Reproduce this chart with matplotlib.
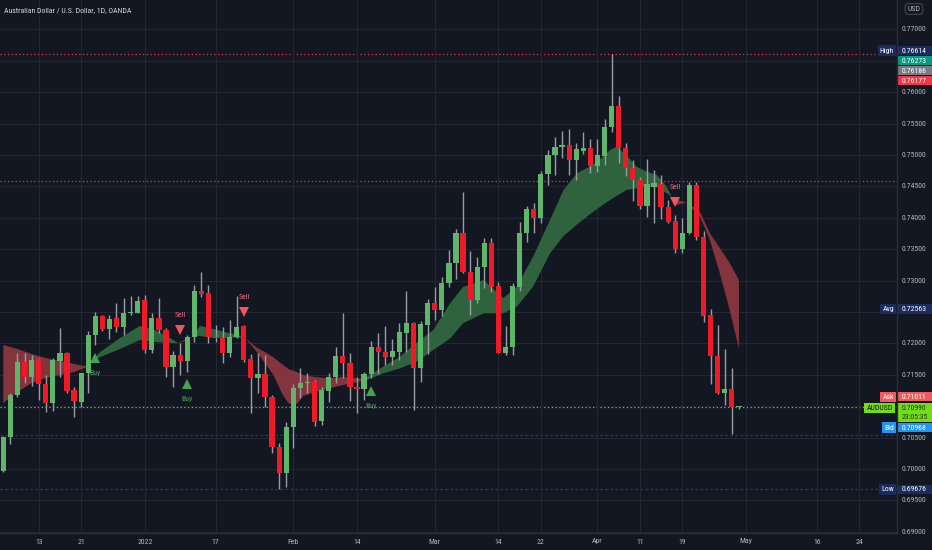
import matplotlib
matplotlib.use("Agg")
import matplotlib.pyplot as plt
from matplotlib.patches import Rectangle
from matplotlib.transforms import offset_copy
from matplotlib import font_manager
import numpy as np
import pandas as pd

# ---------------- data ----------------
start_date = "2021-12-06"
opens = [0.69973, 0.70509, 0.71178, 0.71708, 0.71470, 0.71747, 0.71353, 0.71056, 0.71724, 0.71842,
         0.71258, 0.71072, 0.71524, 0.72134, 0.72436, 0.72224, 0.72400, 0.72266, 0.72479, 0.72489,
         0.72691, 0.71895, 0.72400, 0.72213, 0.71619, 0.71815, 0.71724, 0.72097, 0.72839, 0.72798,
         0.72107, 0.72081, 0.71842, 0.72107, 0.72277, 0.71747, 0.71444, 0.71513, 0.71151, 0.70345,
         0.69931, 0.70664, 0.71285, 0.71365, 0.71390, 0.70764, 0.71247, 0.71460, 0.71799, 0.71683,
         0.71301, 0.71269, 0.71513, 0.71947, 0.71868, 0.71778, 0.71868, 0.72170, 0.72320, 0.71603,
         0.72293, 0.72638, 0.72532, 0.72957, 0.73275, 0.73753, 0.73142, 0.72691, 0.73212, 0.73594,
         0.72914, 0.71852, 0.71947, 0.72903, 0.73753, 0.74135, 0.74002, 0.74697, 0.75000, 0.75123,
         0.75159, 0.74920, 0.75068, 0.75107, 0.74825, 0.74984, 0.75441, 0.75780, 0.75107, 0.74798,
         0.74602, 0.74188, 0.74495, 0.74538, 0.74177, 0.73954, 0.73498, 0.73753, 0.74522, 0.73689,
         0.72452, 0.71799, 0.71215, 0.71269, 0.70985]
highs = [0.70525, 0.71215, 0.71847, 0.71852, 0.71815, 0.71767, 0.71497, 0.71763, 0.72240, 0.71863,
         0.71310, 0.71533, 0.72202, 0.72505, 0.72452, 0.72452, 0.72638, 0.72718, 0.72755, 0.72755,
         0.72771, 0.72479, 0.72718, 0.72240, 0.71884, 0.72011, 0.72134, 0.72930, 0.73142, 0.72930,
         0.72293, 0.72266, 0.72373, 0.72755, 0.72293, 0.71831, 0.71842, 0.71815, 0.71178, 0.70414,
         0.70753, 0.71353, 0.71603, 0.71533, 0.71417, 0.71310, 0.71524, 0.71947, 0.72479, 0.71842,
         0.71470, 0.71549, 0.72043, 0.72161, 0.72277, 0.72065, 0.72320, 0.72839, 0.72346, 0.72361,
         0.72702, 0.72893, 0.73062, 0.73487, 0.73817, 0.74416, 0.73476, 0.73371, 0.73674, 0.73674,
         0.72982, 0.72277, 0.72957, 0.73928, 0.74188, 0.74240, 0.74750, 0.75080, 0.75282, 0.75387,
         0.75409, 0.75196, 0.75371, 0.75250, 0.75250, 0.75568, 0.76614, 0.75940, 0.75186, 0.74920,
         0.74654, 0.74932, 0.74761, 0.74682, 0.74283, 0.74045, 0.73992, 0.74575, 0.74575, 0.73795,
         0.72543, 0.72293, 0.71906, 0.71603, 0.71011]
lows = [0.69960, 0.70398, 0.71151, 0.71369, 0.71322, 0.71099, 0.70908, 0.70928, 0.71470, 0.71215,
        0.70833, 0.70992, 0.71215, 0.71974, 0.72202, 0.72065, 0.72186, 0.72134, 0.72452, 0.72479,
        0.71842, 0.71852, 0.72161, 0.71460, 0.71310, 0.71497, 0.71549, 0.72027, 0.72744, 0.72002,
        0.72027, 0.71693, 0.71778, 0.72081, 0.71708, 0.70896, 0.71205, 0.70982, 0.70250, 0.69676,
        0.69718, 0.70330, 0.71126, 0.71205, 0.70685, 0.70700, 0.71072, 0.71365, 0.71444, 0.71088,
        0.70887, 0.71099, 0.71444, 0.71513, 0.71656, 0.71656, 0.71736, 0.71868, 0.70939, 0.71390,
        0.71831, 0.72373, 0.72436, 0.72903, 0.73021, 0.73116, 0.72452, 0.72648, 0.72877, 0.72823,
        0.71842, 0.71815, 0.71815, 0.72839, 0.73619, 0.73753, 0.73912, 0.74522, 0.74682, 0.74947,
        0.74682, 0.74602, 0.75016, 0.74709, 0.74734, 0.74841, 0.75371, 0.74868, 0.74666, 0.74272,
        0.74135, 0.74018, 0.73912, 0.73976, 0.73922, 0.73435, 0.73444, 0.73742, 0.73646, 0.72346,
        0.71353, 0.71194, 0.71019, 0.70557, 0.70960]
closes = [0.70514, 0.71178, 0.71708, 0.71470, 0.71736, 0.71353, 0.71056, 0.71736, 0.71842, 0.71242,
          0.71083, 0.71524, 0.72134, 0.72436, 0.72224, 0.72393, 0.72266, 0.72489, 0.72505, 0.72680,
          0.71895, 0.72400, 0.72213, 0.71619, 0.71815, 0.71724, 0.72097, 0.72834, 0.72787, 0.72097,
          0.72086, 0.71842, 0.72107, 0.72266, 0.71736, 0.71444, 0.71508, 0.71151, 0.70345, 0.69931,
          0.70673, 0.71294, 0.71374, 0.71390, 0.70748, 0.71258, 0.71460, 0.71799, 0.71683, 0.71301,
          0.71274, 0.71513, 0.71947, 0.71868, 0.71778, 0.71884, 0.72181, 0.72320, 0.71603, 0.72309,
          0.72638, 0.72532, 0.72966, 0.73275, 0.73753, 0.73142, 0.72691, 0.73221, 0.73594, 0.72903,
          0.71852, 0.71947, 0.72914, 0.73753, 0.74135, 0.74002, 0.74697, 0.75000, 0.75132, 0.75159,
          0.74920, 0.75091, 0.75107, 0.74825, 0.75000, 0.75451, 0.75780, 0.75107, 0.74798, 0.74602,
          0.74188, 0.74538, 0.74549, 0.74167, 0.73938, 0.73498, 0.73763, 0.74522, 0.73689, 0.72436,
          0.71799, 0.71215, 0.71269, 0.70992, 0.70990]

# moving-average ribbon (bar position, fast line, slow line)
rib_bar = [0, 2, 4, 6, 8, 10, 11.5, 12.1, 13.7, 16.5, 19.3, 21.4, 23.6, 24.7, 25.7, 26.8,
           27.8, 29.2, 31.3, 32.8, 34.2, 35.8, 37, 38.2, 39.4, 40.3, 41.5, 42.4, 44.1, 45.8,
           48, 50, 50.9, 51.4, 53.7, 56.1, 58.4, 60.8, 63.2, 65, 67.9, 70.7, 72.6, 74.9, 77.3,
           79.2, 81.1, 82.9, 84.4, 85.8, 86.7, 88.1, 89.5, 91, 92.4, 93.8, 94.5, 95.2, 96.6,
           98.5, 99.9, 101.3, 102.7, 104]
rib_fast = [0.71051, 0.71226, 0.71369, 0.71449, 0.71497, 0.71545, 0.71608, 0.71672, 0.71863, 0.72086,
            0.72277, 0.72213, 0.72086, 0.72006, 0.72038, 0.72118, 0.72277, 0.72245, 0.72181, 0.72142,
            0.72086, 0.71868, 0.71683, 0.71497, 0.71205, 0.71046, 0.71035, 0.71162, 0.71226, 0.71274,
            0.71337, 0.71385, 0.71417, 0.71470, 0.71629, 0.71788, 0.72006, 0.72213, 0.72643, 0.72898,
            0.73010, 0.72723, 0.72903, 0.73381, 0.73965, 0.74443, 0.74709, 0.74814, 0.74936, 0.75080,
            0.75132, 0.75000, 0.74814, 0.74734, 0.74682, 0.74495, 0.74336, 0.74204, 0.74244, 0.74018,
            0.73646, 0.73116, 0.72532, 0.71922]
rib_slow = [0.71974, 0.71911, 0.71831, 0.71767, 0.71720, 0.71672, 0.71640, 0.71672, 0.71783, 0.71911,
            0.72054, 0.72022, 0.72006, 0.72006, 0.72062, 0.72118, 0.72118, 0.72094, 0.72086, 0.72094,
            0.72086, 0.71935, 0.71863, 0.71775, 0.71672, 0.71592, 0.71545, 0.71497, 0.71465, 0.71444,
            0.71465, 0.71444, 0.71417, 0.71417, 0.71524, 0.71603, 0.71708, 0.71895, 0.72081, 0.72320,
            0.72479, 0.72479, 0.72584, 0.72903, 0.73435, 0.73710, 0.73893, 0.74053, 0.74177, 0.74283,
            0.74347, 0.74443, 0.74470, 0.74495, 0.74495, 0.74390, 0.74336, 0.74283, 0.74244, 0.74097,
            0.73753, 0.73519, 0.73280, 0.73010]

buy_dates = ["2021-12-23", "2022-01-11", "2022-02-16"]
sell_dates = ["2022-01-10", "2022-01-21", "2022-04-18"]

tick_dates = ["2021-12-13", "2021-12-21", "2022-01-03", "2022-01-17", "2022-02-01", "2022-02-14",
              "2022-03-01", "2022-03-14", "2022-03-22", "2022-04-01", "2022-04-11", "2022-04-19",
              "2022-05-02", "2022-05-16", "2022-05-24"]
tick_texts = ["13", "21", "2022", "17", "Feb", "14", "Mar", "14", "22", "Apr", "11", "19",
              "May", "16", "24"]

price_ticks = [0.690, 0.695, 0.700, 0.705, 0.710, 0.715, 0.720, 0.725, 0.730, 0.735, 0.740,
               0.745, 0.750, 0.755, 0.760, 0.765, 0.770]

high_val, low_val, avg_val = 0.76614, 0.69676, 0.72563
top_stack = [("0.76273", "#089981"), ("0.76186", "#787b86"), ("0.76177", "#f23645")]
ask_val, last_val, bid_val = 0.71011, 0.70990, 0.70968
countdown = "23:05:35"
level_red = 0.74586
level_navy = 0.70541
title = "Australian Dollar / U.S. Dollar, 1D, OANDA"

# ---------------- style ----------------
BG = "#131722"
GRID = "#232734"
TXT = "#b2b5be"
UP = "#5fb56a"
DN = "#ee1a27"
WICK = "#9a9ca4"
RIB_UP = "#2e633d"
RIB_DN = "#84343c"
NAVY = "#1c2b5e"
LINE_NAVY = "#2333a0"
LIME = "#72dc1a"

avail = {f.name for f in font_manager.fontManager.ttflist}
FONT = "Liberation Sans Narrow" if "Liberation Sans Narrow" in avail else (
    "Roboto Condensed" if "Roboto Condensed" in avail else "Roboto")
plt.rcParams["font.family"] = [FONT, "DejaVu Sans"]
FS = 5.6

W, H = 932, 550
fig = plt.figure(figsize=(W / 100, H / 100), dpi=100, facecolor=BG)
ax = fig.add_axes([0, 17 / H, 897 / W, 533 / H])
ax.set_facecolor(BG)

dates = pd.bdate_range(start_date, "2022-05-31")
pos = {d.strftime("%Y-%m-%d"): i for i, d in enumerate(dates)}
n = len(opens)
xs = np.arange(n)
o, hi, lo, c = map(np.array, (opens, highs, lows, closes))

ax.set_xlim(-0.47, 126.35)
ax.set_ylim(0.68981, 0.77468)

# grid
ax.set_yticks(price_ticks)
ax.set_xticks([pos[d] for d in tick_dates])
ax.grid(True, color=GRID, lw=0.8)
ax.tick_params(left=False, bottom=False, labelleft=False, labelbottom=False)
for s in ax.spines.values():
    s.set_visible(False)

# ribbon
rb, rf, rs = np.array(rib_bar), np.array(rib_fast), np.array(rib_slow)
ax.fill_between(rb, rf, rs, where=rf >= rs, interpolate=True, color=RIB_UP, lw=0, zorder=2)
ax.fill_between(rb, rf, rs, where=rf < rs, interpolate=True, color=RIB_DN, lw=0, zorder=2)

# horizontal levels
ax.axhline(high_val, color="#f23645", lw=0.9, ls=(0, (1, 2)), zorder=1.5)
ax.axhline(level_red, color="#f23645", lw=0.9, ls=(0, (1, 2)), zorder=1.5)
ax.axhline(level_navy, color=LINE_NAVY, lw=0.9, ls=(0, (2, 2)), zorder=1.5)
ax.axhline(low_val, color=LINE_NAVY, lw=0.9, ls=(0, (2, 2)), zorder=1.5)
ax.axhline(last_val, color=LIME, lw=0.9, ls=(0, (1, 2)), zorder=1.5)

# candles
up = c >= o
ax.vlines(xs, lo, hi, color=WICK, lw=1.0, zorder=3)
minh = 0.00017
bottoms = np.minimum(o, c)
heights = np.maximum(np.abs(c - o), minh)
ax.bar(xs[up], heights[up], bottom=bottoms[up], width=0.74, color=UP, lw=0, zorder=4)
ax.bar(xs[~up], heights[~up], bottom=bottoms[~up], width=0.74, color=DN, lw=0, zorder=4)

# buy / sell markers
for d in buy_dates:
    i = pos[d]
    t1 = offset_copy(ax.transData, fig=fig, y=-12.5, units="dots")
    t2 = offset_copy(ax.transData, fig=fig, y=-27.5, units="dots")
    ax.plot(i, lows[i], marker="^", ms=6.5, color="#43a353", mew=0, transform=t1, zorder=5)
    ax.text(i, lows[i], "Buy", transform=t2, ha="center", va="center", fontsize=FS,
            color="#4a9e57", zorder=5)
for d in sell_dates:
    i = pos[d]
    t1 = offset_copy(ax.transData, fig=fig, y=12.5, units="dots")
    t2 = offset_copy(ax.transData, fig=fig, y=27.5, units="dots")
    ax.plot(i, highs[i], marker="v", ms=6.5, color="#f0565f", mew=0, transform=t1, zorder=5)
    ax.text(i, highs[i], "Sell", transform=t2, ha="center", va="center", fontsize=FS,
            color="#ec6a72", zorder=5)

# ---------------- overlay (pixel coords) ----------------
ov = fig.add_axes([0, 0, 1, 1], zorder=10)
ov.set_xlim(0, W)
ov.set_ylim(H, 0)
ov.axis("off")

fig.canvas.draw()


def py(p):
    return H - ax.transData.transform((0, p))[1]


def px(b):
    return ax.transData.transform((b, 0))[0]


# axis separators
ov.plot([897, 897], [0, 533], color="#2a2e39", lw=1)
ov.plot([0, 897], [533, 533], color="#2a2e39", lw=1)

ov.text(4, 10, title, fontsize=FS, color="#d1d4dc", ha="left", va="center")
ov.text(914, 9, "USD", fontsize=FS, color=TXT, ha="center", va="center",
        bbox=dict(boxstyle="round,pad=0.3,rounding_size=0.4", fc=BG, ec="#434651", lw=0.8))

boxes = []  # y ranges occupied on the price scale


def value_box(yc, h, color, lines, tcolor="white"):
    ov.add_patch(Rectangle((898, yc - h / 2), 34, h, color=color, lw=0))
    boxes.append((yc - h / 2, yc + h / 2))
    k = len(lines)
    for j, t in enumerate(lines):
        ov.text(902, yc - h / 2 + (j + 0.5) * h / k, t, fontsize=FS, color=tcolor,
                ha="left", va="center")


def name_box(yc, text, color, tcolor="white", right=895.5):
    ov.text(right - 1.5, yc, text, fontsize=FS, color=tcolor, ha="right", va="center",
            bbox=dict(boxstyle="square,pad=0.28", fc=color, ec="none"))


STEP = 10
y0 = py(high_val) - 3
name_box(y0, "High", NAVY)
value_box(y0, 9.5, NAVY, [f"{high_val:.5f}"])
for j, (t, col) in enumerate(top_stack):
    value_box(y0 + (j + 1) * STEP, 9.5, col, [t])

ya = py(avg_val) + 1
name_box(ya, "Avg", NAVY)
value_box(ya, 9.5, NAVY, [f"{avg_val:.5f}"])

yl = py(last_val)
name_box(yl - 10, "Ask", "#f05a5c")
value_box(yl - 10, 9, "#f05a5c", [f"{ask_val:.5f}"])
name_box(yl + 1, "AUDUSD", LIME, tcolor="#131722", right=894.5)
value_box(yl + 5.8, 19, LIME, [f"{last_val:.5f}", countdown], tcolor="#1a3a10")
name_box(yl + 20.8, "Bid", "#2196f3")
value_box(yl + 20.8, 8.8, "#2196f3", [f"{bid_val:.5f}"])

ylow = py(low_val)
name_box(ylow, "Low", NAVY)
value_box(ylow, 9.5, NAVY, [f"{low_val:.5f}"])

# price scale labels (hidden where a box covers them)
for p in price_ticks:
    y = py(p)
    if any(a - 4 < y < b + 4 for a, b in boxes):
        continue
    ov.text(902, y, f"{p:.5f}", fontsize=FS, color=TXT, ha="left", va="center", clip_on=False)

# time scale labels
for d, t in zip(tick_dates, tick_texts):
    ov.text(px(pos[d]), 541.5, t, fontsize=FS, color=TXT, ha="center", va="center")

fig.savefig("out.png", dpi=100, facecolor=BG)
